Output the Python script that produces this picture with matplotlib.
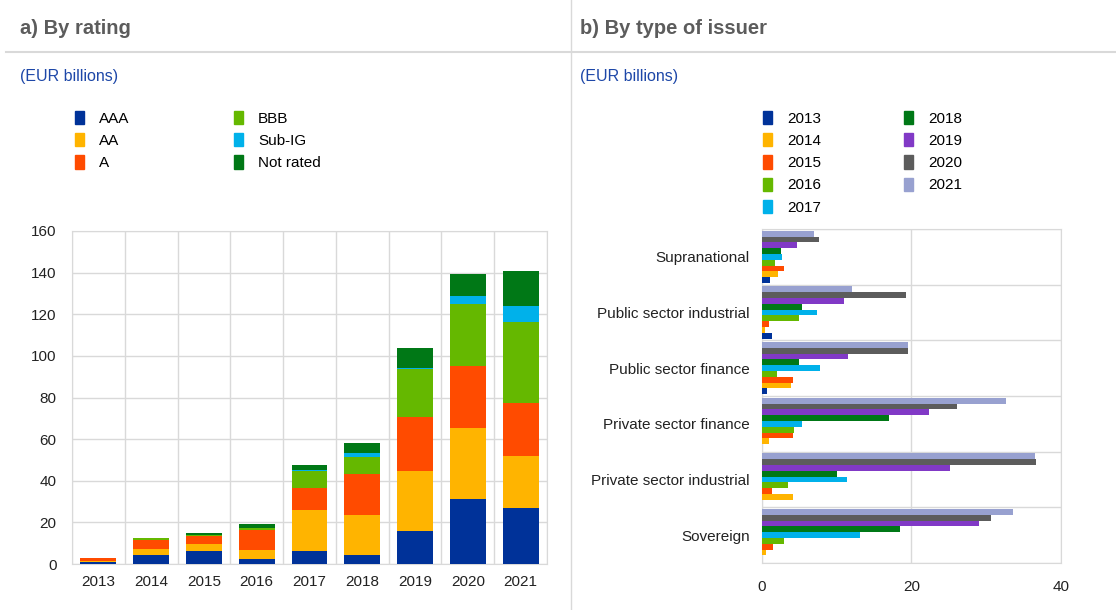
import matplotlib.pyplot as plt
from matplotlib.patches import Patch
import numpy as np

plt.rcParams['font.family'] = ['Liberation Sans', 'DejaVu Sans']

# ----------------------------
# a) By rating (stacked bars)
# ----------------------------
years = ["2013", "2014", "2015", "2016", "2017", "2018", "2019", "2020", "2021"]
ratings = ["AAA", "AA", "A", "BBB", "Sub-IG", "Not rated"]
aaa = [1.2, 4.5, 6.1, 2.4, 6.1, 4.2, 15.7, 31.3, 26.8]
aa = [0.4, 2.5, 3.7, 4.5, 20.0, 19.2, 28.9, 34.2, 25.1]
a = [1.4, 4.5, 3.8, 9.3, 10.3, 19.9, 25.9, 29.5, 25.5]
bbb = [0.1, 0.8, 0.3, 1.1, 8.5, 8.3, 23.1, 30.0, 39.1]
sub_ig = [0.0, 0.0, 0.0, 0.2, 0.2, 1.8, 0.6, 4.0, 7.7]
not_rated = [0.0, 0.2, 1.0, 1.7, 2.5, 4.9, 9.5, 10.4, 16.5]
rating_colors = ["#003299", "#FFB400", "#FF4B00", "#65B800", "#00B1EA", "#007816"]

# ----------------------------
# b) By type of issuer (grouped horizontal bars)
# ----------------------------
issuers = ["Sovereign", "Private sector industrial", "Private sector finance",
           "Public sector finance", "Public sector industrial", "Supranational"]
# one list per year, in the order of 'issuers'
y2013 = [0.0, 0.0, 0.0, 0.7, 1.3, 1.1]
y2014 = [0.6, 4.2, 1.0, 3.9, 0.45, 2.2]
y2015 = [1.5, 1.4, 4.2, 4.1, 1.0, 2.9]
y2016 = [2.9, 3.5, 4.3, 2.0, 4.9, 1.7]
y2017 = [13.1, 11.4, 5.4, 7.7, 7.3, 2.7]
y2018 = [18.5, 10.0, 17.0, 5.0, 5.4, 2.5]
y2019 = [29.0, 25.2, 22.4, 11.5, 11.0, 4.7]
y2020 = [30.6, 36.6, 26.1, 19.5, 19.2, 7.6]
y2021 = [33.6, 36.5, 32.6, 19.5, 12.0, 7.0]
year_series = [y2013, y2014, y2015, y2016, y2017, y2018, y2019, y2020, y2021]
year_colors = ["#003299", "#FFB400", "#FF4B00", "#65B800", "#00B1EA",
               "#007816", "#8139C6", "#5C5C5C", "#98A1D0"]

W, H = 1116, 610
fig = plt.figure(figsize=(W / 100, H / 100), dpi=100)

def box(x0, y0, x1, y1):
    return [x0 / W, 1 - y1 / H, (x1 - x0) / W, (y1 - y0) / H]

grid_c = "#d9d9d9"
txt_c = "#222222"
fs = 11

# cabeceras y separadores
fig.add_artist(plt.Line2D([6 / W, 1], [1 - 52 / H] * 2, color=grid_c, lw=1.5))
fig.add_artist(plt.Line2D([571 / W] * 2, [0, 1], color=grid_c, lw=1.0))
fig.text(20 / W, 1 - 29 / H, "a) By rating", fontsize=14.5, fontweight="bold",
         color="#5c5c5c", va="center")
fig.text(580 / W, 1 - 29 / H, "b) By type of issuer", fontsize=14.5, fontweight="bold",
         color="#5c5c5c", va="center")
fig.text(20 / W, 1 - 77 / H, "(EUR billions)", fontsize=11.5, color="#1d47a8", va="center")
fig.text(580 / W, 1 - 77 / H, "(EUR billions)", fontsize=11.5, color="#1d47a8", va="center")

# ---- panel a
ax1 = fig.add_axes(box(72, 231, 547, 564))
x = np.arange(len(years))
bottom = np.zeros(len(years))
for vals, c in zip([aaa, aa, a, bbb, sub_ig, not_rated], rating_colors):
    ax1.bar(x, vals, bottom=bottom, width=0.68, color=c, zorder=3)
    bottom += np.array(vals)
ax1.set_xlim(-0.5, len(years) - 0.5)
ax1.set_ylim(0, 160)
ax1.set_yticks(range(0, 161, 20))
ax1.set_xticks(x)
ax1.set_xticklabels(years)
ax1.set_xticks(np.arange(-0.5, len(years), 1), minor=True)
ax1.grid(axis="y", color=grid_c, lw=1, zorder=0)
ax1.grid(axis="x", which="minor", color=grid_c, lw=1, zorder=0)
ax1.tick_params(which="both", length=0, labelsize=fs, colors=txt_c)
ax1.tick_params(axis="x", pad=8)
ax1.tick_params(axis="y", pad=11)
for s in ax1.spines.values():
    s.set_color(grid_c)

h1 = [Patch(color=c) for c in rating_colors]
fig.legend(h1, ratings, loc="upper left", bbox_to_anchor=(75 / W, 1 - 111 / H),
           ncol=2, frameon=False, fontsize=fs, handlelength=0.6, handleheight=0.95,
           handletextpad=1.0, columnspacing=6.8, labelspacing=0.48,
           borderpad=0, borderaxespad=0)

# ---- panel b
ax2 = fig.add_axes(box(762, 229, 1061, 563))
yc = np.arange(len(issuers))
bh = 0.104
for j, (vals, c) in enumerate(zip(year_series, year_colors)):
    ax2.barh(yc + (j - 4) * bh, vals, height=bh, color=c, zorder=3)
ax2.set_ylim(-0.5, len(issuers) - 0.5)
ax2.set_xlim(0, 40)
ax2.set_xticks([0, 20, 40])
ax2.set_yticks(yc)
ax2.set_yticklabels(issuers)
ax2.set_yticks(np.arange(-0.5, len(issuers), 1), minor=True)
ax2.grid(axis="x", color=grid_c, lw=1, zorder=0)
ax2.grid(axis="y", which="minor", color=grid_c, lw=1, zorder=0)
ax2.tick_params(which="both", length=0, labelsize=fs, colors=txt_c)
ax2.tick_params(axis="x", pad=12)
ax2.tick_params(axis="y", pad=9)
for s in ax2.spines.values():
    s.set_color(grid_c)

h2 = [Patch(color=c) for c in year_colors]
fig.legend(h2, years, loc="upper left", bbox_to_anchor=(763 / W, 1 - 111 / H),
           ncol=2, frameon=False, fontsize=fs, handlelength=0.6, handleheight=0.95,
           handletextpad=1.0, columnspacing=5.4, labelspacing=0.48,
           borderpad=0, borderaxespad=0)

fig.savefig("out.png", dpi=100)
